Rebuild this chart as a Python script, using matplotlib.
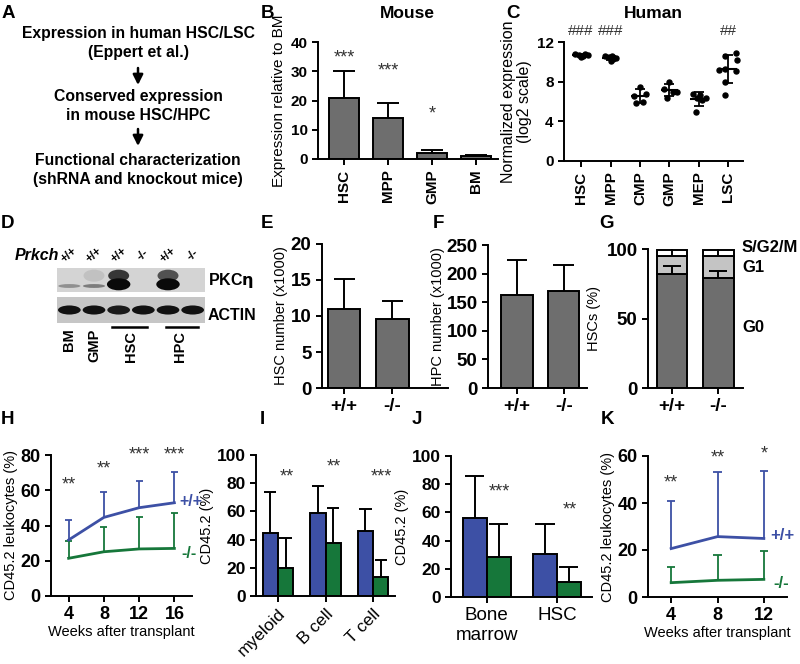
import numpy as np
import matplotlib.pyplot as plt
from matplotlib.patches import Ellipse

plt.rcParams['font.family'] = ['Liberation Sans', 'DejaVu Sans']
plt.rcParams['font.weight'] = 'bold'
plt.rcParams['axes.linewidth'] = 1.4
plt.rcParams['xtick.major.width'] = 1.4
plt.rcParams['ytick.major.width'] = 1.4
plt.rcParams['xtick.major.size'] = 4
plt.rcParams['ytick.major.size'] = 4

W, H = 800, 664
BLUE = '#3d50a5'
GREEN = '#16773a'
GRAY = '#6e6e6e'

# ---- A: workflow
flow_steps = ['Expression in human HSC/LSC\n(Eppert et al.)',
              'Conserved expression\nin mouse HSC/HPC',
              'Functional characterization\n(shRNA and knockout mice)']

# ---- B: mouse expression
mouse_cells = ['HSC', 'MPP', 'GMP', 'BM']
mouse_mean = [20.7, 14.0, 2.1, 1.1]
mouse_err = [30.0, 19.3, 3.0, 1.5]
mouse_stars = ['***', '***', '*', '']
mouse_star_y = [34.5, 30, 15.5, 0]

# ---- C: human expression (log2)
human_cells = ['HSC', 'MPP', 'CMP', 'GMP', 'MEP', 'LSC']
human_points = [
    [10.8, 10.7, 10.6, 10.8, 10.7, 10.5],
    [10.6, 10.5, 10.3, 10.4, 10.6, 10.1],
    [7.5, 6.8, 6.6, 6.0, 5.8],
    [8.0, 7.3, 7.0, 7.0, 6.4],
    [6.8, 6.7, 6.4, 6.4, 6.2, 4.9],
    [10.9, 10.6, 10.2, 9.3, 9.2, 9.1, 8.0, 6.7],
]
human_jitter = [
    [-0.2, -0.08, 0.05, 0.15, 0.22, 0.0],
    [-0.2, -0.05, 0.1, 0.2, 0.05, 0.0],
    [0.0, 0.22, -0.2, 0.12, -0.15],
    [0.0, -0.18, 0.12, 0.25, -0.08],
    [-0.2, 0.05, 0.25, -0.05, 0.12, -0.1],
    [0.25, -0.1, 0.28, -0.1, -0.3, 0.25, -0.1, -0.1],
]
human_marks = ['###', '###', '', '', '', '##']

# ---- D: western blot (relative band intensities)
blot_geno = ['+/+', '+/+', '+/+', '-/-', '+/+', '-/-']
pkc_low = [0.35, 0.45, 1.0, 0.0, 1.0, 0.0]
pkc_high = [0.0, 0.1, 0.85, 0.0, 0.7, 0.0]
actin = [1.0, 1.0, 0.95, 1.0, 1.0, 1.0]

# ---- E/F/G
geno = ['+/+', '-/-']
hsc_num = [11.0, 9.6]
hsc_err = [15.1, 12.1]
hpc_num = [162, 169]
hpc_err = [223, 215]
g0 = [82, 79]
g1 = [13, 16]
sg2m = [4.5, 4.5]
g0_err = [88, 84]
top_err = [101, 101]

# ---- H: primary transplant
h_weeks = [4, 8, 12, 16]
h_wt = [31.8, 44.6, 50.1, 52.9]
h_wt_err = [43.1, 59.2, 65.4, 70.5]
h_ko = [21.4, 25.1, 26.7, 27.0]
h_ko_err = [31.2, 38.9, 44.6, 47.3]
h_stars = ['**', '**', '***', '***']
h_star_y = [63, 72, 80, 80]

# ---- I: lineages
lineages = ['myeloid', 'B cell', 'T cell']
i_wt = [44.9, 59.1, 46.1]
i_wt_err = [73.5, 78.0, 61.9]
i_ko = [19.6, 37.4, 13.2]
i_ko_err = [41.4, 62.2, 25.8]
i_stars = ['**', '**', '***']
i_star_y = [84.6, 91.3, 84.6]

# ---- J: BM / HSC
tissues = ['Bone\nmarrow', 'HSC']
j_wt = [56.3, 30.5]
j_wt_err = [85.6, 51.8]
j_ko = [28.4, 10.6]
j_ko_err = [51.5, 21.3]
j_stars = ['***', '**']
j_star_y = [74.5, 61.7]

# ---- K: secondary transplant
k_weeks = [4, 8, 12]
k_wt = [20.6, 25.7, 24.9]
k_wt_err = [40.8, 53.1, 53.8]
k_ko = [6.1, 7.1, 7.5]
k_ko_err = [12.8, 17.8, 19.6]
k_stars = ['**', '**', '*']
k_star_y = [48.4, 59.0, 60.9]


fig = plt.figure(figsize=(8, 6.64), dpi=100)


def add_ax(l, t, r, b):
    return fig.add_axes([l / W, 1 - b / H, (r - l) / W, (b - t) / H])


def style(ax, fs):
    ax.spines['top'].set_visible(False)
    ax.spines['right'].set_visible(False)
    ax.tick_params(labelsize=fs)


def up_err(ax, x, y, top, cw, color='k', lw=1.4):
    ax.vlines(x, y, top, color=color, lw=lw, zorder=1)
    ax.hlines(top, np.asarray(x) - cw, np.asarray(x) + cw, color=color, lw=lw, zorder=1)


# overlay in pixel coordinates for text / arrows, drawn on top of everything
ov = fig.add_axes([0, 0, 1, 1])
ov.set_xlim(0, W)
ov.set_ylim(H, 0)
ov.axis('off')
ov.set_zorder(10)

for lab, x, y in [('A', 8, 13), ('B', 267, 13), ('C', 513, 13), ('D', 8, 224),
                  ('E', 267, 224), ('F', 438, 224), ('G', 607, 224),
                  ('H', 8, 420), ('I', 262, 420), ('J', 417, 420), ('K', 607, 420)]:
    ov.text(x, y, lab, fontsize=13.5, ha='center', va='center')

# A
for txt, y in zip(flow_steps, [43, 106, 170]):
    ov.text(138, y, txt, fontsize=11.3, ha='center', va='center', linespacing=1.4)
for y0 in [68, 129]:
    ov.annotate('', xy=(138, y0 + 17), xytext=(138, y0),
                arrowprops=dict(arrowstyle='-|>,head_length=0.5,head_width=0.25',
                                lw=1.8, color='k', mutation_scale=12,
                                shrinkA=0, shrinkB=0))

# B
ax = add_ax(318, 42, 498, 159)
xb = np.arange(len(mouse_cells))
ax.bar(xb, mouse_mean, width=0.68, color=GRAY, edgecolor='k', lw=1.4, zorder=2)
up_err(ax, xb, mouse_mean, mouse_err, 0.25)
for x, s, y in zip(xb, mouse_stars, mouse_star_y):
    ax.text(x, y, s, ha='center', va='center', fontsize=13, fontweight='normal', color='#333')
ax.set_xlim(-0.6, 3.5)
ax.set_ylim(0, 40)
ax.set_yticks([0, 10, 20, 30, 40])
ax.set_xticks(xb, mouse_cells, rotation=90)
style(ax, 11)
ax.set_ylabel('Expression relative to BM', fontsize=11, fontweight='normal', labelpad=3)
ov.text(407, 13, 'Mouse', fontsize=12.5, ha='center', va='center')

# C
ax = add_ax(564, 42, 743, 161)
for i, (pts, jit) in enumerate(zip(human_points, human_jitter)):
    pts = np.array(pts)
    ax.plot(i + np.array(jit), pts, 'o', color='k', ms=3.6, zorder=3)
    m, sd = pts.mean(), pts.std(ddof=1)
    ax.hlines(m, i - 0.3, i + 0.3, color='k', lw=1.5)
    ax.vlines(i, m - sd, m + sd, color='k', lw=1.3)
    ax.hlines([m - sd, m + sd], i - 0.17, i + 0.17, color='k', lw=1.3)
    if human_marks[i]:
        ax.text(i, 13.1, human_marks[i], ha='center', va='center', fontsize=11,
                fontweight='normal', color='#333')
ax.set_xlim(-0.58, 5.5)
ax.set_ylim(0, 12)
ax.set_yticks([0, 4, 8, 12])
ax.set_xticks(range(len(human_cells)), human_cells, rotation=90)
style(ax, 11)
ax.set_ylabel('Normalized expression\n(log2 scale)', fontsize=11.5, fontweight='normal',
              linespacing=1.1, labelpad=3)
ov.text(653, 13, 'Human', fontsize=12.5, ha='center', va='center')

# D: blot
lanes = np.arange(len(blot_geno))
bu = add_ax(57, 268, 205, 292)
bl = add_ax(57, 297, 205, 323)
for b, fc in [(bu, '#d4d4d4'), (bl, '#c6c6c6')]:
    b.set_facecolor(fc)
    b.set_xlim(-0.5, 5.5)
    b.set_ylim(0, 1)
    b.set_xticks([])
    b.set_yticks([])
    for s in b.spines.values():
        s.set_visible(False)
for x, lo, hi in zip(lanes, pkc_low, pkc_high):
    if hi > 0:
        bu.add_patch(Ellipse((x, 0.68), 0.85, 0.5, color='#1a1a1a', alpha=hi, lw=0))
    if lo > 0.9:
        bu.add_patch(Ellipse((x, 0.32), 0.95, 0.5, color='#0a0a0a', alpha=lo, lw=0))
    elif lo > 0:
        bu.add_patch(Ellipse((x, 0.25), 0.9, 0.16, color='#111', alpha=lo, lw=0))
for x, a in zip(lanes, actin):
    bl.add_patch(Ellipse((x, 0.5), 0.92, 0.35, color='#111', alpha=a, lw=0))
for x, g in zip(lanes, blot_geno):
    bu.text(x, 1.55, g, transform=bu.get_xaxis_transform(), ha='center', va='center',
            fontsize=8.5, rotation=40)
ov.text(15, 255, 'Prkch', fontsize=11.5, style='italic', ha='left', va='center')
ov.text(208, 281, r'PKC$\mathrm{\eta}$', fontsize=11.5, ha='left', va='center')
ov.text(208, 315, 'ACTIN', fontsize=11.5, ha='left', va='center')
tr = bl.get_xaxis_transform()
bl.text(0, -0.22, 'BM', transform=tr, rotation=90, ha='center', va='top', fontsize=10.5)
bl.text(1, -0.22, 'GMP', transform=tr, rotation=90, ha='center', va='top', fontsize=10.5)
bl.text(2.5, -0.32, 'HSC', transform=tr, rotation=90, ha='center', va='top', fontsize=10.5)
bl.text(4.5, -0.32, 'HPC', transform=tr, rotation=90, ha='center', va='top', fontsize=10.5)
bl.plot([1.75, 3.15], [-0.15, -0.15], transform=tr, color='k', lw=1.8, clip_on=False)
bl.plot([3.9, 5.2], [-0.15, -0.15], transform=tr, color='k', lw=1.8, clip_on=False)

# E
xg = np.arange(2)
ax = add_ax(322, 244, 448, 388)
ax.bar(xg, hsc_num, width=0.67, color=GRAY, edgecolor='k', lw=1.4, zorder=2)
up_err(ax, xg, hsc_num, hsc_err, 0.22)
ax.set_xlim(-0.46, 2.15)
ax.set_ylim(0, 20)
ax.set_yticks([0, 5, 10, 15, 20])
ax.set_xticks(xg, geno)
style(ax, 13.5)
ax.set_ylabel('HSC number (x1000)', fontsize=10.5, fontweight='normal', labelpad=2)

# F
ax = add_ax(488, 245, 587, 388)
ax.bar(xg, hpc_num, width=0.67, color=GRAY, edgecolor='k', lw=1.4, zorder=2)
up_err(ax, xg, hpc_num, hpc_err, 0.22)
ax.set_xlim(-0.62, 1.5)
ax.set_ylim(0, 250)
ax.set_yticks([0, 50, 100, 150, 200, 250])
ax.set_xticks(xg, geno)
style(ax, 13.5)
ax.set_ylabel('HPC number (x1000)', fontsize=10.5, fontweight='normal', labelpad=1)

# G
ax = add_ax(648, 249, 743, 388)
ax.bar(xg, g0, width=0.67, color=GRAY, edgecolor='k', lw=1.4, zorder=2)
ax.bar(xg, g1, bottom=g0, width=0.67, color='#c4c4c4', edgecolor='k', lw=1.4, zorder=2)
ax.bar(xg, sg2m, bottom=np.add(g0, g1), width=0.67, color='white', edgecolor='k', lw=1.4, zorder=2)
ax.vlines(xg, g0, g0_err, color='k', lw=1.4, zorder=3)
ax.hlines(g0_err, xg - 0.2, xg + 0.2, color='k', lw=1.4, zorder=3)
ax.vlines(xg, np.add(g0, g1), top_err, color='k', lw=1.4, zorder=3)
ax.hlines(top_err, xg - 0.2, xg + 0.2, color='k', lw=1.4, zorder=3)
ax.set_xlim(-0.52, 1.54)
ax.set_ylim(0, 100)
ax.set_yticks([0, 50, 100])
ax.set_xticks(xg, geno)
style(ax, 13.5)
ax.set_ylabel('HSCs (%)', fontsize=10.5, fontweight='normal')
ov.text(742, 248, 'S/G2/M', fontsize=12, ha='left', va='center')
ov.text(742, 268, 'G1', fontsize=12, ha='left', va='center')
ov.text(742, 327, 'G0', fontsize=12, ha='left', va='center')


def time_course(ax, weeks, wt, wt_err, ko, ko_err, stars, star_y, cw):
    up_err(ax, weeks, wt, wt_err, cw, color=BLUE, lw=1.3)
    up_err(ax, weeks, ko, ko_err, cw, color=GREEN, lw=1.3)
    ax.plot(weeks, wt, color=BLUE, lw=2)
    ax.plot(weeks, ko, color=GREEN, lw=2)
    for x, s, y in zip(weeks, stars, star_y):
        ax.text(x, y, s, ha='center', va='center', fontsize=13, fontweight='normal',
                color='#333', clip_on=False)
    ax.set_xticks(weeks)
    ax.set_xlabel('Weeks after transplant', fontsize=10.5, fontweight='normal', labelpad=1)
    ax.set_ylabel('CD45.2 leukocytes (%)', fontsize=10.5, fontweight='normal', labelpad=2)


# H
ax = add_ax(51, 455, 192, 596)
time_course(ax, h_weeks, h_wt, h_wt_err, h_ko, h_ko_err, h_stars, h_star_y, 0.4)
ax.set_xlim(2, 18)
ax.set_ylim(0, 80)
ax.set_yticks([0, 20, 40, 60, 80])
style(ax, 13)
ov.text(179, 502, '+/+', color=BLUE, fontsize=11.5, ha='left', va='center')
ov.text(181, 553, '-/-', color=GREEN, fontsize=11.5, ha='left', va='center')


def grouped(ax, labels, wt, wt_err, ko, ko_err, stars, star_y, bw):
    x = np.arange(len(labels))
    ax.bar(x - bw / 2, wt, width=bw, color=BLUE, edgecolor='k', lw=1.4, zorder=2)
    ax.bar(x + bw / 2, ko, width=bw, color=GREEN, edgecolor='k', lw=1.4, zorder=2)
    up_err(ax, x - bw / 2, wt, wt_err, bw * 0.4)
    up_err(ax, x + bw / 2, ko, ko_err, bw * 0.4)
    for xi, s, y in zip(x, stars, star_y):
        ax.text(xi + 0.18, y, s, ha='center', va='center', fontsize=13,
                fontweight='normal', color='#333')
    ax.set_ylim(0, 100)
    ax.set_yticks([0, 20, 40, 60, 80, 100])
    ax.set_ylabel('CD45.2 (%)', fontsize=10.5, fontweight='normal', labelpad=2)
    return x


# I
ax = add_ax(256, 455, 395, 596)
xi = grouped(ax, lineages, i_wt, i_wt_err, i_ko, i_ko_err, i_stars, i_star_y, 0.32)
ax.set_xlim(-0.46, 2.46)
ax.set_xticks(xi, lineages, rotation=45, ha='right', rotation_mode='anchor',
              fontweight='normal')
style(ax, 12.5)
ax.tick_params(axis='x', labelsize=12.5)

# J
ax = add_ax(451, 456, 592, 597)
xj = grouped(ax, tissues, j_wt, j_wt_err, j_ko, j_ko_err, j_stars, j_star_y, 0.34)
ax.set_xlim(-0.51, 1.5)
ax.set_xticks(xj, tissues, fontweight='normal', linespacing=1.2)
style(ax, 12.5)
ax.tick_params(axis='x', labelsize=13.5)

# K
ax = add_ax(648, 456, 787, 597)
time_course(ax, k_weeks, k_wt, k_wt_err, k_ko, k_ko_err, k_stars, k_star_y, 0.35)
ax.set_xlim(2, 14)
ax.set_ylim(0, 60)
ax.set_yticks([0, 20, 40, 60])
style(ax, 13)
ov.text(770, 535, '+/+', color=BLUE, fontsize=12, ha='left', va='center')
ov.text(773, 583, '-/-', color=GREEN, fontsize=12, ha='left', va='center')

fig.savefig('out.png', dpi=100)
